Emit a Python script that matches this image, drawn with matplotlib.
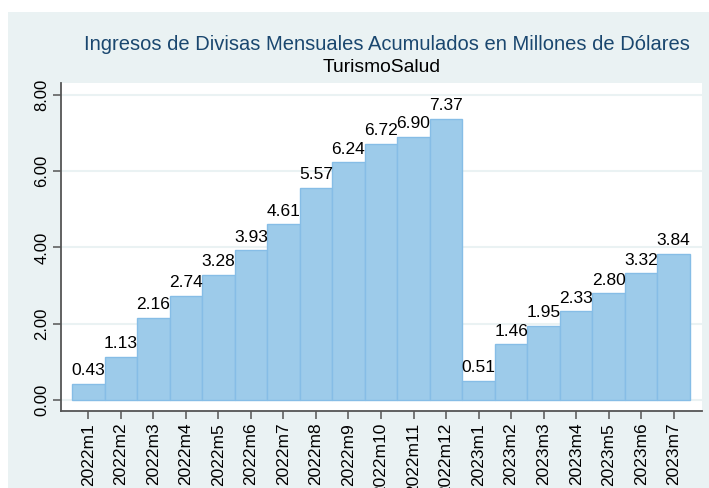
import matplotlib
matplotlib.use("Agg")
import matplotlib.pyplot as plt
from matplotlib.patches import Rectangle

plt.rcParams['font.family'] = ['Liberation Sans', 'DejaVu Sans']

months = ['2022m1', '2022m2', '2022m3', '2022m4', '2022m5', '2022m6', '2022m7',
          '2022m8', '2022m9', '2022m10', '2022m11', '2022m12',
          '2023m1', '2023m2', '2023m3', '2023m4', '2023m5', '2023m6', '2023m7']
values = [0.43, 1.13, 2.16, 2.74, 3.28, 3.93, 4.61, 5.57, 6.24, 6.72, 6.90, 7.37,
          0.51, 1.46, 1.95, 2.33, 2.80, 3.32, 3.84]
yticks = [0, 2, 4, 6, 8]

bg = '#eaf2f3'
fig = plt.figure(figsize=(7.09, 4.88), dpi=100, facecolor='white')
# outer light background, leaves a thin white strip at top and left
fig.patches.append(Rectangle((8 / 709, 0), 1, 1 - 12 / 488, transform=fig.transFigure,
                             facecolor=bg, edgecolor='none', zorder=-5))

ax = fig.add_axes([61 / 709, 1 - 411 / 488, 641 / 709, 328 / 488])
ax.set_facecolor('white')

x = list(range(1, len(values) + 1))
ax.bar(x, values, width=1.0, color='#9dcbea', edgecolor='#86bde6', linewidth=1.0, zorder=2)
for xi, v in zip(x, values):
    ax.annotate(f'{v:.2f}', (xi, v), xytext=(0, 4), textcoords='offset points',
                ha='center', va='bottom', fontsize=12.5, color='black', zorder=3)

ax.set_xlim(0.16, 19.87)
ax.set_ylim(-0.29, 8.315)
ax.set_yticks(yticks)
ax.set_yticklabels([f'{t:.2f}' for t in yticks], rotation=90, va='center', fontsize=12)
ax.set_xticks(x)
ax.set_xticklabels(months, rotation=90, fontsize=12.5)
ax.yaxis.grid(True, color=bg, linewidth=1.5, zorder=0)
ax.set_axisbelow(True)

for s in ['top', 'right']:
    ax.spines[s].set_visible(False)
for s in ['left', 'bottom']:
    ax.spines[s].set_color('#555555')
    ax.spines[s].set_linewidth(1.3)
ax.tick_params(direction='out', length=5.5, width=1.1, color='#555555', pad=3)

cx = (61 + 702) / 2 / 709
fig.text(cx + 0.008, 1 - 44 / 488, 'Ingresos de Divisas Mensuales Acumulados en Millones de Dólares',
         ha='center', va='center', fontsize=14.5, color='#1a476f')
fig.text(cx, 1 - 68 / 488, 'TurismoSalud', ha='center', va='center', fontsize=13.9, color='black')

fig.savefig('out.png', dpi=100, facecolor='white')
